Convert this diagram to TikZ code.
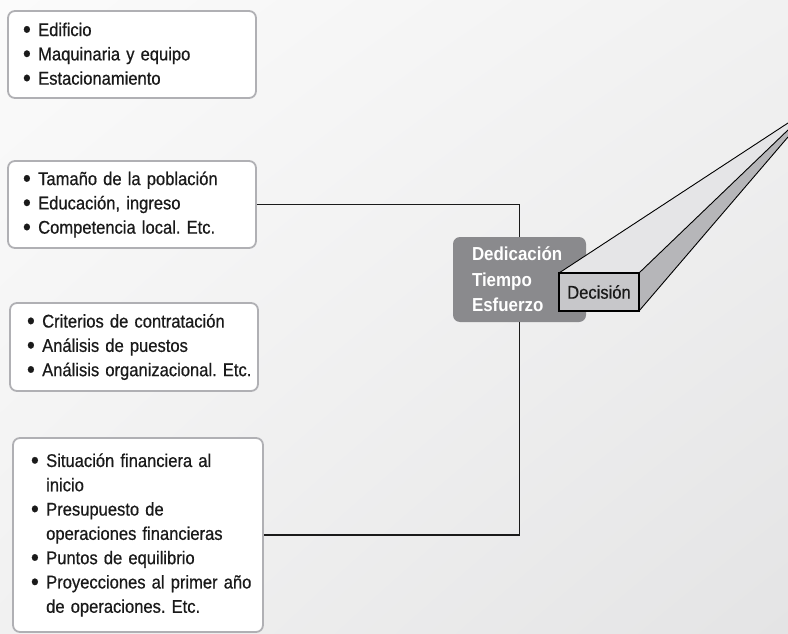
\documentclass[tikz,border=0pt]{standalone}
\usepackage{fontspec}
\usepackage{graphicx}
\setmainfont{Liberation Sans}[FakeStretch=0.9, UprightFeatures={FakeBold=0.6}]
\frenchspacing
\usetikzlibrary{calc}
\usetikzlibrary{shadings}
\definecolor{bgLight}{HTML}{FBFBFB}
\definecolor{bgMid}{HTML}{F1F1F1}
\definecolor{bgDark}{HTML}{E4E4E5}
\definecolor{boxGray}{HTML}{B0B0B4}
\definecolor{hubGray}{HTML}{8A8A8D}
\definecolor{faceTop}{HTML}{E5E5E7}
\definecolor{faceSide}{HTML}{B6B6B9}
\definecolor{faceFront}{HTML}{C7C7CA}
\definecolor{ink}{HTML}{1A1A1A}
\newcommand{\listfont}{\fontsize{18.4}{24.3}\selectfont}
\newcommand{\bigdot}{\raisebox{-1.6pt}{\scalebox{1.35}{\textbullet}}}
\newcommand{\itm}[1]{%
  % #1: a felsorolás egy sora (ponttal)
  \mbox{\bigdot\hspace{0.4em}#1}}
\newcommand{\cnt}[1]{%
  % #1: a felsorolás folytatósora (pont nélkül)
  \mbox{\phantom{\bigdot}\hspace{0.4em}#1}}
\tikzset{
  list/.style = {draw=boxGray, line width=1.8pt, rounded corners=7pt, fill=white,
    align=left, inner sep=0pt, text width=#1, text=ink, font=\listfont},
  hub/.style = {fill=hubGray, rounded corners=7pt, align=left, inner sep=0pt,
    text width=95pt, minimum width=133pt, minimum height=85pt, text=white,
    font=\fontsize{18.8}{25.5}\selectfont\bfseries},
  front/.style = {draw=black, line width=1.4pt, fill=faceFront, inner sep=0pt,
    minimum width=80pt, minimum height=38pt, text=ink, font=\listfont},
  link/.style = {color=#1, line width=1.3pt},
  edge/.style = {color=#1, line width=0.9pt}
}

\begin{document}
\begin{tikzpicture}[x=1pt,y=1pt]

    % Background
    \shade[upper left=bgLight, upper right=bgMid, lower left=bgMid, lower right=bgDark]
      (0,0) rectangle (788,-634);
    \useasboundingbox (0,0) rectangle (788,-634);

    % Coordinates
    \coordinate (Fa) at (559,-273);
    \coordinate (Fb) at (639,-273);
    \coordinate (Fc) at (639,-311);
    \coordinate (T1) at (788,-123);
    \coordinate (T2) at (788,-130);
    \coordinate (T3) at (788,-137);

    % Lists
    \node[list={218pt}, minimum width=248pt, minimum height=87pt] (plant) at (132,-54.5)
      {\itm{Edificio}\\ \itm{Maquinaria y equipo}\\ \itm{Estacionamiento}};
    \node[list={218pt}, minimum width=248pt, minimum height=87pt] (market) at (132,-204.5)
      {\itm{Tamaño de la población}\\ \itm{Educación, ingreso}\\ \itm{Competencia local. Etc.}};
    \node[list={214pt}, minimum width=248pt, minimum height=88pt] (staff) at (134,-347)
      {\itm{Criterios de contratación}\\ \itm{Análisis de puestos}\\ \itm{Análisis organizacional. Etc.}};
    \node[list={214pt}, minimum width=250pt, minimum height=194pt] (finance) at (138,-535)
      {\itm{Situación financiera al}\\ \cnt{inicio}\\ \itm{Presupuesto de}\\
       \cnt{operaciones financieras}\\ \itm{Puntos de equilibrio}\\
       \itm{Proyecciones al primer año}\\ \cnt{de operaciones. Etc.}};

    % Centre
    \node[hub] (effort) at (519.5,-279.5) {Dedicación\\Tiempo\\Esfuerzo};

    % Connectors
    \draw[link={ink}] (market.east) -| (effort.north);
    \draw[link={ink}] (finance.east) -| (effort.south);

    % Beam
    \fill[faceTop] (Fa) -- (Fb) -- (T2) -- (T1) -- cycle;
    \fill[faceSide] (Fb) -- (Fc) -- (T3) -- (T2) -- cycle;
    \draw[edge={black}] (Fa) -- (T1);
    \draw[edge={black}] (Fb) -- (T2);
    \draw[edge={black}] (Fc) -- (T3);
    \node[front] (decision) at ($(Fa)!0.5!(Fc)$) {Decisión};

\end{tikzpicture}
\end{document}
